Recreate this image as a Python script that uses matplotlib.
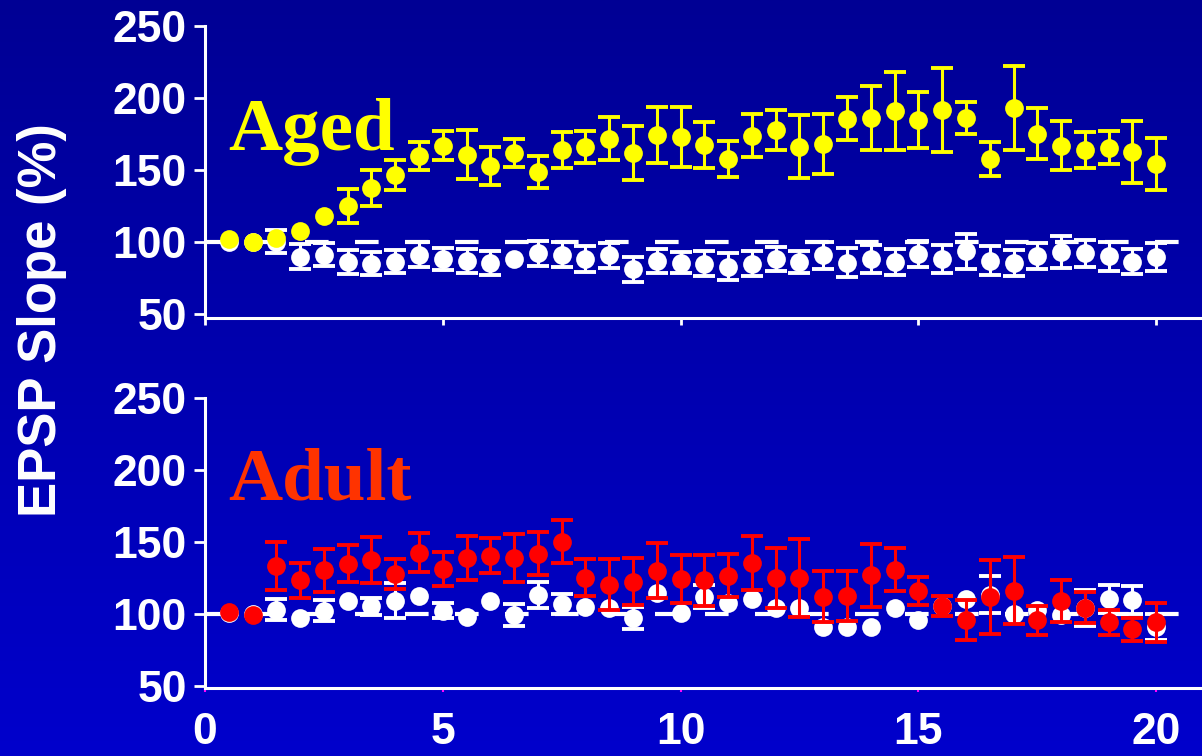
import numpy as np
import matplotlib
matplotlib.use("Agg")
import matplotlib.pyplot as plt
from matplotlib import font_manager
from matplotlib.colors import LinearSegmentedColormap

# time (min), one point every 30 s
x = [0.5, 1.0, 1.5, 2.0, 2.5, 3.0, 3.5, 4.0, 4.5, 5.0,
     5.5, 6.0, 6.5, 7.0, 7.5, 8.0, 8.5, 9.0, 9.5, 10.0,
     10.5, 11.0, 11.5, 12.0, 12.5, 13.0, 13.5, 14.0, 14.5, 15.0,
     15.5, 16.0, 16.5, 17.0, 17.5, 18.0, 18.5, 19.0, 19.5, 20.0]

aged_mean = [101.7, 99.6, 102.4, 107.5, 118, 125, 137.5, 146.5, 159.7, 166.7,
             160.4, 152.8, 161.8, 148.6, 163.9, 166, 171.5, 161.8, 174.3, 173,
             167.4, 157.6, 173.6, 177.8, 166, 168, 185.4, 186, 191, 184.7,
             191.7, 186, 157.6, 193, 175, 166.7, 164, 165.3, 162.5, 154]
aged_err = [0, 0, 0, 0, 0, 12, 12.5, 10.5, 10, 10,
            17, 13, 9.5, 11, 12.5, 11, 15, 19, 19.5, 21,
            16, 12.5, 15, 14, 22, 21, 15, 22, 27, 19.5,
            29, 11, 11.6, 29.5, 17.7, 17, 12.5, 11.5, 21.5, 18]
aged_ctrl = [100, 100, 100, 89.6, 91, 86, 84.7, 86, 91, 88,
             86.8, 85.4, 88, 92, 91, 88, 90.6, 80.9, 86.8, 85.4,
             84.7, 82.6, 84.7, 88, 86, 90.6, 85.4, 88, 86, 91.5,
             88, 93.4, 86.8, 85.4, 90, 92.7, 92, 90, 86, 89.6]
aged_ctrl_err = [0, 0, 8, 8.7, 8, 8.3, 8, 8, 8.5, 7.5,
                 8.3, 8.3, 0, 8.7, 8.7, 8.8, 8.7, 8.7, 8.3, 7.3,
                 8.7, 9.4, 8.7, 8.4, 7.5, 9.4, 10, 10, 9.3, 8.7,
                 9.8, 12, 10, 9, 9, 11, 9.5, 10, 8.7, 9.7]

adult_mean = [101.5, 99.7, 133.2, 123.5, 130.4, 135, 137.9, 128, 142.6, 131.5,
              139.3, 140.7, 139.3, 142, 150.4, 125.4, 120.5, 122.6, 130.2, 124.7,
              123.5, 126.8, 135.7, 125.3, 125.3, 112.2, 112.8, 127, 131, 116,
              105.5, 95.8, 111.6, 116.4, 95.8, 108.9, 104.6, 94.3, 89.5, 94.4]
adult_err = [0, 0, 16.7, 12, 15, 13, 16, 10.4, 13.5, 12,
             15.3, 12, 16.7, 15, 15, 13, 17.7, 16.3, 19, 16.7,
             17.7, 14.7, 18.7, 21, 27, 18, 17.4, 22, 15, 9.7,
             7, 14, 25.7, 23, 10, 14.6, 11, 8.7, 8, 13.5]
adult_ctrl = [101, 100, 103, 97.5, 102.4, 109.4, 105.5, 109.4, 112.8, 102.4,
              98.3, 109.4, 99.6, 113.5, 107.3, 105.2, 104.5, 97.5, 114.9, 101,
              112.2, 108, 110.7, 104.5, 104.5, 91.3, 91.3, 91.3, 104.5, 95.8,
              105.5, 110.7, 113.5, 100.3, 103, 99.6, 104.5, 110.7, 110, 91.3]
adult_ctrl_err = [0, 0, 7.3, 0, 7.3, 0, 6, 12, 0, 5,
                  0, 0, 7.6, 9, 7, 0, 0, 7.6, 0, 0,
                  8, 0, 0, 0, 0, 0, 0, 0, 0, 0,
                  0, 0, 13, 0, 0, 0, 12.5, 9.7, 9.7, 9]

yticks = [50, 100, 150, 200, 250]
xticks = [0, 5, 10, 15, 20]

installed = {f.name for f in font_manager.fontManager.ttflist}
narrow = "Liberation Sans Narrow" if "Liberation Sans Narrow" in installed else "Liberation Sans"

plt.rcParams["font.family"] = "Liberation Sans"
plt.rcParams["font.weight"] = "bold"
plt.rcParams["lines.scale_dashes"] = False

W, H = 1202, 756
fig = plt.figure(figsize=(W / 100, H / 100), dpi=100)

# blue gradient background
bg = fig.add_axes([0, 0, 1, 1], zorder=-10)
cmap = LinearSegmentedColormap.from_list("bg", ["#000094", "#0000CC"])
bg.imshow(np.linspace(0, 1, 256).reshape(-1, 1), aspect="auto", cmap=cmap,
          extent=[0, 1, 0, 1], origin="upper")
bg.axis("off")

px_per_min = 47.56
xmax = 21


def series(ax, mean, err, color, z):
    # error bars only where an error was visible, then the dots on top
    xs = [a for a, e in zip(x, err) if e > 0]
    ms = [m for m, e in zip(mean, err) if e > 0]
    es = [e for e in err if e > 0]
    ax.errorbar(xs, ms, yerr=es, fmt="none", ecolor=color, elinewidth=2.2,
                capsize=8, capthick=2.8, zorder=z)
    ax.plot(x, mean, "o", color=color, ms=13.5, mew=0, zorder=z + 0.5)


def panel(rect, ylim, mean, err, ctrl, ctrl_err, color):
    ax = fig.add_axes(rect)
    ax.set_facecolor("none")
    ax.plot([0, 20.5], [100, 100], color="white", lw=3, dashes=(17, 19), zorder=1)
    series(ax, ctrl, ctrl_err, "white", 2)
    series(ax, mean, err, color, 3)
    ax.set_xlim(0, xmax)
    ax.set_ylim(*ylim)
    ax.set_yticks(yticks)
    ax.set_xticks(xticks)
    for s in ["top", "right"]:
        ax.spines[s].set_visible(False)
    for s in ["left", "bottom"]:
        ax.spines[s].set_color("white")
        ax.spines[s].set_linewidth(2.2)
    ax.tick_params(axis="y", colors="white", length=8, width=2, pad=5, labelsize=32)
    return ax


aw = xmax * px_per_min / W
top = panel([205 / W, 1 - 318 / H, aw, 292 / H], (47, 250),
            aged_mean, aged_err, aged_ctrl, aged_ctrl_err, "#FFFF00")
top.tick_params(axis="x", colors="white", length=5, width=2, labelbottom=False)
top.text(0.48, 163.8, "Aged", color="#FFFF00", fontsize=54, fontweight="bold",
         family="Liberation Serif", va="baseline", ha="left")

bot = panel([205 / W, 1 - 688 / H, aw, 289.5 / H], (48.6, 250),
            adult_mean, adult_err, adult_ctrl, adult_ctrl_err, "#FF0000")
bot.tick_params(axis="x", colors="#FF00FF", labelcolor="white", length=3, width=1.5,
                pad=14, labelsize=32)
for lab in bot.get_xticklabels():
    lab.set_family(narrow)
bot.xaxis.get_major_ticks()[0].tick1line.set_color("white")
bot.text(0.48, 179.4, "Adult", color="#FF3300", fontsize=54, fontweight="bold",
         family="Liberation Serif", va="baseline", ha="left")

fig.text(42 / W, 1 - 320 / H, "EPSP Slope (%)", rotation=90, color="white",
         fontsize=38, fontweight="bold", ha="center", va="center")

fig.savefig("out.png", dpi=100, facecolor="#000094")
